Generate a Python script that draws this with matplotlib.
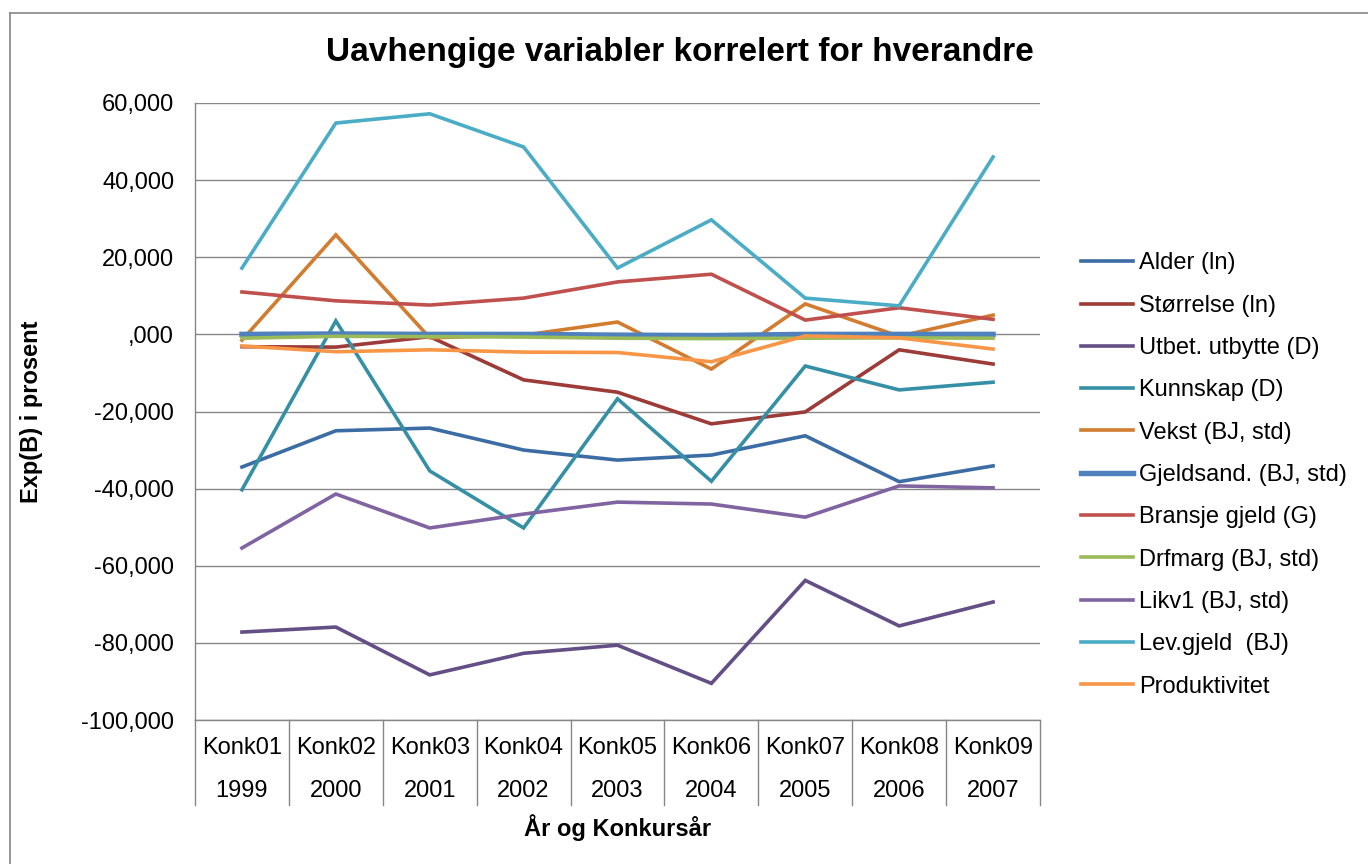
import matplotlib
matplotlib.use('Agg')
import matplotlib.pyplot as plt
import matplotlib.transforms as mtransforms
from matplotlib.lines import Line2D
from matplotlib.ticker import FuncFormatter

plt.rcParams['font.family'] = ['Liberation Sans', 'DejaVu Sans']

konk = ['Konk01', 'Konk02', 'Konk03', 'Konk04', 'Konk05', 'Konk06', 'Konk07', 'Konk08', 'Konk09']
years = ['1999', '2000', '2001', '2002', '2003', '2004', '2005', '2006', '2007']

alder = [-34.4, -25.0, -24.3, -30.0, -32.6, -31.3, -26.3, -38.2, -34.1]
storrelse = [-3.2, -3.3, -0.6, -11.8, -15.0, -23.2, -20.1, -4.0, -7.7]
utbytte = [-77.2, -75.9, -88.3, -82.7, -80.6, -90.5, -63.8, -75.6, -69.4]
kunnskap = [-40.3, 3.5, -35.4, -50.2, -16.7, -38.1, -8.2, -14.4, -12.4]
vekst = [-1.5, 25.8, -0.9, -0.2, 3.2, -9.0, 7.9, -0.5, 5.0]
gjeldsand = [0.0, 0.1, 0.0, 0.0, -0.2, -0.3, 0.0, 0.0, 0.0]
bransje = [11.0, 8.7, 7.6, 9.4, 13.6, 15.6, 3.7, 6.9, 3.9]
drfmarg = [-1.0, -0.5, -0.6, -0.7, -1.0, -1.1, -1.0, -0.9, -1.0]
likv1 = [-55.4, -41.4, -50.2, -46.6, -43.5, -44.0, -47.4, -39.3, -39.8]
levgjeld = [17.2, 54.8, 57.2, 48.6, 17.2, 29.7, 9.4, 7.4, 46.0]
produktivitet = [-3.0, -4.5, -4.0, -4.6, -4.7, -7.1, -0.4, -0.9, -3.8]

series = [
    ('Alder (ln)', alder, '#3C6CA4', 2.6),
    ('Størrelse (ln)', storrelse, '#9C3B38', 2.6),
    ('Utbet. utbytte (D)', utbytte, '#644E86', 2.6),
    ('Kunnskap (D)', kunnskap, '#3590A6', 2.6),
    ('Vekst (BJ, std)', vekst, '#D27C30', 2.6),
    ('Gjeldsand. (BJ, std)', gjeldsand, '#4F81BD', 3.9),
    ('Bransje gjeld (G)', bransje, '#C0504D', 2.6),
    ('Drfmarg (BJ, std)', drfmarg, '#9BBB59', 2.6),
    ('Likv1 (BJ, std)', likv1, '#8064A2', 2.6),
    ('Lev.gjeld  (BJ)', levgjeld, '#4BACC6', 2.6),
    ('Produktivitet', produktivitet, '#F79646', 2.6),
]

grid_col = '#868686'
fs = 17

fig = plt.figure(figsize=(13.68, 8.64), dpi=100)
ax = fig.add_axes([195 / 1368, 1 - 720 / 864, 845 / 1368, 617 / 864])

x = list(range(len(konk)))
for i, (name, vals, col, lw) in enumerate(series):
    ax.plot(x, vals, color=col, lw=lw, label=name, zorder=3 + i, solid_joinstyle='miter')

ax.set_xlim(-0.5, len(konk) - 0.5)
ax.set_ylim(-100, 60)
ax.set_yticks(range(-100, 61, 20))


def fmt(v, pos):
    s = f"{abs(v):.3f}".replace('.', ',')
    if s.startswith('0,'):
        s = s[1:]
    return ('-' if v < 0 else '') + s


ax.yaxis.set_major_formatter(FuncFormatter(fmt))
ax.tick_params(axis='y', length=0, pad=15, labelsize=fs)
ax.set_xticks([])
ax.grid(axis='y', color=grid_col, lw=1)
ax.set_axisbelow(True)
for s in ['top', 'right']:
    ax.spines[s].set_visible(False)
for s in ['left', 'bottom']:
    ax.spines[s].set_color(grid_col)
    ax.spines[s].set_linewidth(1)

# two-level category axis
trans = mtransforms.blended_transform_factory(ax.transData, ax.transAxes)
for i in range(len(konk) + 1):
    ax.plot([i - 0.5, i - 0.5], [0, -0.138], transform=trans, color=grid_col,
            lw=1, clip_on=False)
for i in range(len(konk)):
    ax.text(i, -0.045, konk[i], transform=trans, ha='center', va='center', fontsize=fs)
    ax.text(i, -0.115, years[i], transform=trans, ha='center', va='center', fontsize=fs)

ax.text(0.5, -0.175, 'År og Konkursår', transform=ax.transAxes, ha='center',
        va='center', fontsize=fs, fontweight='bold')
fig.text(32 / 1368, 1 - 412 / 864, 'Exp(B) i prosent', rotation=90, ha='center',
         va='center', fontsize=fs, fontweight='bold')
fig.text(680 / 1368, 1 - 52 / 864, 'Uavhengige variabler korrelert for hverandre',
         ha='center', va='center', fontsize=24, fontweight='bold')

fig.legend(loc='center left', bbox_to_anchor=(1060 / 1368, 1 - 475 / 864),
           frameon=False, fontsize=fs, handlelength=2.2, handletextpad=0.25,
           labelspacing=0.86)

# outer chart border (left and top visible)
fig.add_artist(Line2D([10 / 1368, 10 / 1368], [0, 1 - 13 / 864], color=grid_col, lw=1.2))
fig.add_artist(Line2D([10 / 1368, 1], [1 - 13 / 864, 1 - 13 / 864], color=grid_col, lw=1.2))

fig.savefig('out.png', dpi=100)
